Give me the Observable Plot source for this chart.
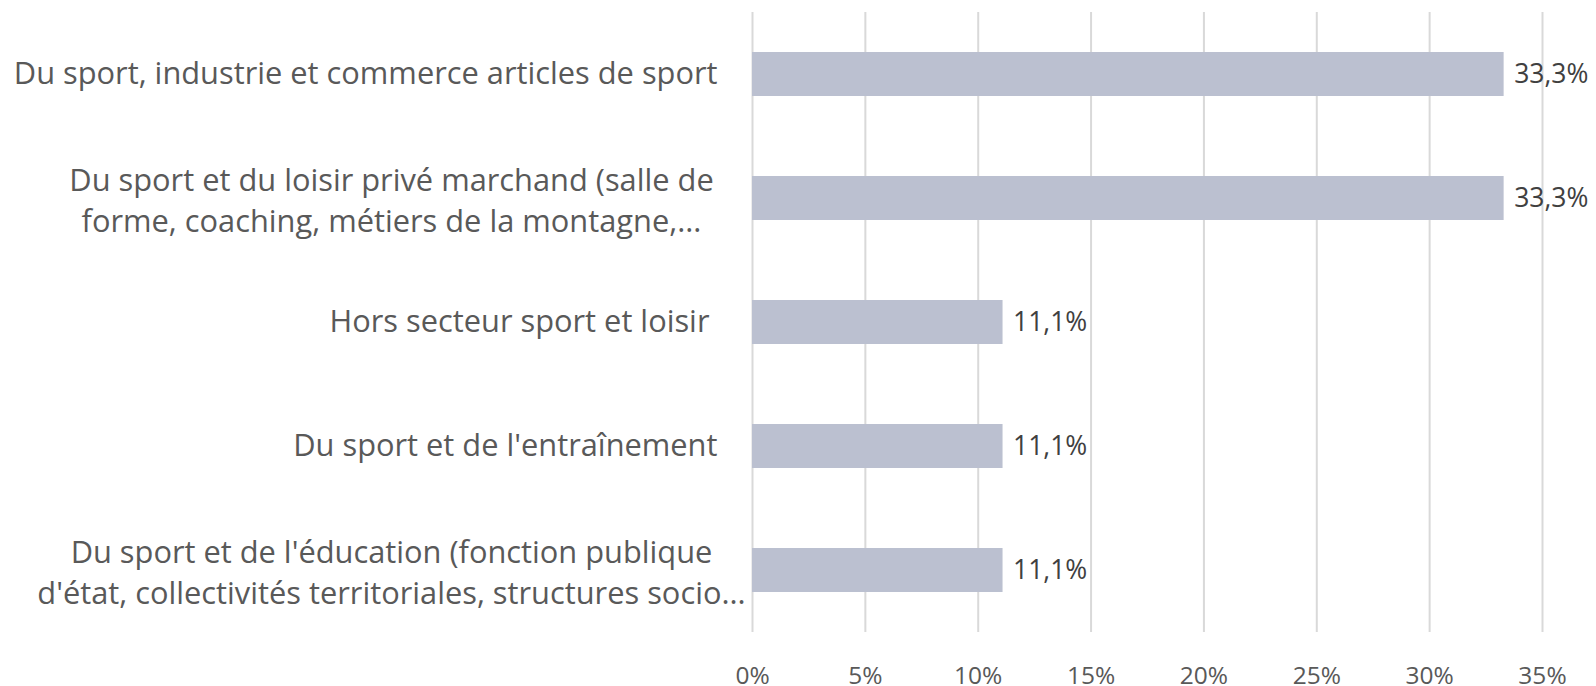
<!DOCTYPE html>
<html><head><meta charset="utf-8">
<script src="https://cdn.jsdelivr.net/npm/d3@7"></script>
<script src="https://cdn.jsdelivr.net/npm/@observablehq/plot@0.6"></script>
<style>html,body{margin:0;padding:0;background:#fff;overflow:hidden} svg text{white-space:pre}</style>
</head><body><div id="chart"></div>
<script>
const categories = [
  "Du sport, industrie et commerce articles de sport",
  "Du sport et du loisir privé marchand (salle de\nforme, coaching, métiers de la montagne,...",
  "Hors secteur sport et loisir ",
  "Du sport et de l'entraînement",
  "Du sport et de l'éducation (fonction publique\nd'état, collectivités territoriales, structures socio..."
];
const values = [33.3, 33.3, 11.1, 11.1, 11.1];
const valueLabels = ["33,3%", "33,3%", "11,1%", "11,1%", "11,1%"];
const xTicks = [0, 5, 10, 15, 20, 25, 30, 35];
const xTickLabels = ["0%", "5%", "10%", "15%", "20%", "25%", "30%", "35%"];

const data = categories.map((c, i) => ({category: c, value: values[i], label: valueLabels[i], lines: c.split("\n").length}));

const chart = Plot.plot({
  width: 1596, height: 686,
  marginLeft: 752, marginRight: 54, marginTop: 12, marginBottom: 54,
  style: {fontFamily: "'Open Sans', sans-serif", background: "#fff", color: "#595959", overflow: "visible"},
  x: {domain: [0, 35], axis: null, label: null},
  y: {domain: categories, paddingInner: 0.645, paddingOuter: 0.3225, axis: null},
  marks: [
    Plot.gridX(xTicks, {stroke: "#d9d9d9", strokeOpacity: 1, strokeWidth: 2}),
    Plot.barX(data, {y: "category", x: "value", fill: "#bbc0d0"}),
    Plot.text(data, {y: "category", x: "value", text: "label", dx: 10, textAnchor: "start", fontSize: 26.5, fill: "#404040"}),
    Plot.text(data.filter(d => d.lines === 1), {y: "category", frameAnchor: "left", text: "category", textAnchor: "end", dx: -35, fontSize: 30.8, fill: "#595959"}),
    Plot.text(data.filter(d => d.lines === 2), {y: "category", frameAnchor: "left", text: "category", textAnchor: "middle", dx: -361, lineHeight: 1.315, fontSize: 30.8, fill: "#595959"}),
    Plot.axisX({ticks: xTicks, tickSize: 0, tickPadding: 34, fontSize: 24.5, label: null, tickFormat: d => xTickLabels[xTicks.indexOf(d)]})
  ]
});
document.getElementById("chart").appendChild(chart);
</script>
</body></html>
